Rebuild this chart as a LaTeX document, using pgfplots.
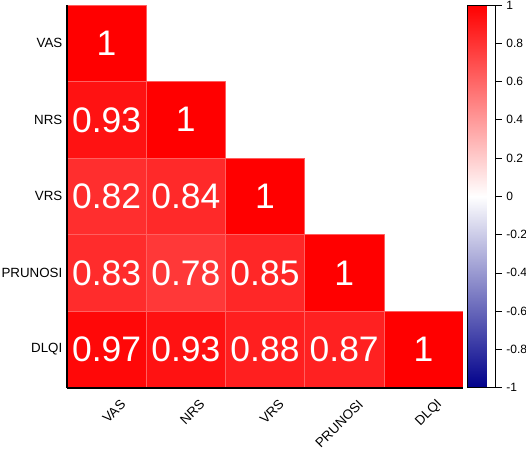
\documentclass[border=0pt]{standalone}
\usepackage{fontspec}
\setmainfont{Liberation Sans}
\usepackage{pgfplots}
\pgfplotsset{compat=1.18}

\pgfplotsset{colormap={corr}{rgb255=(0,0,139) rgb255=(255,255,255) rgb255=(255,0,0)}}

\begin{document}
\begin{tikzpicture}
\useasboundingbox (-50.25pt,-45.75pt) rectangle (344.25pt,290.75pt);
\begin{axis}[
    at={(0,0)}, anchor=south west,
    scale only axis, width=297pt, height=287pt,
    xmin=-0.5, xmax=4.5, ymin=-0.5, ymax=4.5,
    axis x line*=bottom, axis y line*=left,
    axis line style={line width=1.5pt},
    every outer x axis line/.append style={-},
    every outer y axis line/.append style={-},
    axis on top,
    xtick={0,...,4}, ytick={0,...,4},
    xticklabels={VAS,NRS,VRS,PRUNOSI,DLQI},
    yticklabels={DLQI,PRUNOSI,VRS,NRS,VAS},
    xtick style={draw=none}, ytick style={draw=none},
    xticklabel style={rotate=45, anchor=east, font=\fontsize{10}{11}\selectfont, xshift=4.5pt, yshift=-16.5pt},
    yticklabel style={font=\fontsize{10}{11}\selectfont, xshift=0pt},
    colormap name=corr,
    point meta min=-1, point meta max=1,
    colorbar,
    colorbar style={
        at={(parent axis.north east)}, anchor=north west, xshift=-5pt,
        width=21pt,
        ytick={-1,-0.8,-0.6,-0.4,-0.2,0,0.2,0.4,0.6,0.8,1},
        ytick pos=right, yticklabel pos=right,
        tick align=outside, major tick length=4.5pt,
        ytick style={draw=black, line width=0.5pt},
        yticklabel style={font=\fontsize{9}{10}\selectfont, /pgf/number format/assume math mode=true, /pgf/number format/fixed},
        axis line style={line width=0.6pt},
    },
]
% one rectangle per cell, four corners each, c = correlation
\addplot[patch, patch type=rectangle, shader=faceted,
    faceted color={rgb,255:red,255;green,95;blue,95}, line width=0.4pt,
    point meta=\thisrow{c}] table {
x y c
-0.5 3.5 1
0.5 3.5 1
0.5 4.5 1
-0.5 4.5 1
-0.5 2.5 0.93
0.5 2.5 0.93
0.5 3.5 0.93
-0.5 3.5 0.93
0.5 2.5 1
1.5 2.5 1
1.5 3.5 1
0.5 3.5 1
-0.5 1.5 0.82
0.5 1.5 0.82
0.5 2.5 0.82
-0.5 2.5 0.82
0.5 1.5 0.84
1.5 1.5 0.84
1.5 2.5 0.84
0.5 2.5 0.84
1.5 1.5 1
2.5 1.5 1
2.5 2.5 1
1.5 2.5 1
-0.5 0.5 0.83
0.5 0.5 0.83
0.5 1.5 0.83
-0.5 1.5 0.83
0.5 0.5 0.78
1.5 0.5 0.78
1.5 1.5 0.78
0.5 1.5 0.78
1.5 0.5 0.85
2.5 0.5 0.85
2.5 1.5 0.85
1.5 1.5 0.85
2.5 0.5 1
3.5 0.5 1
3.5 1.5 1
2.5 1.5 1
-0.5 -0.5 0.97
0.5 -0.5 0.97
0.5 0.5 0.97
-0.5 0.5 0.97
0.5 -0.5 0.93
1.5 -0.5 0.93
1.5 0.5 0.93
0.5 0.5 0.93
1.5 -0.5 0.88
2.5 -0.5 0.88
2.5 0.5 0.88
1.5 0.5 0.88
2.5 -0.5 0.87
3.5 -0.5 0.87
3.5 0.5 0.87
2.5 0.5 0.87
3.5 -0.5 1
4.5 -0.5 1
4.5 0.5 1
3.5 0.5 1
};
% cell labels
\addplot[only marks, mark=none, point meta=explicit symbolic,
    nodes near coords, nodes near coords align=center,
    every node near coord/.append style={anchor=center, xshift=0pt, yshift=0pt,
        text=white, font=\fontsize{26.6}{28}\selectfont}]
    table[meta=lab] {
x y lab
0 4 1
0 3 0.93
1 3 1
0 2 0.82
1 2 0.84
2 2 1
0 1 0.83
1 1 0.78
2 1 0.85
3 1 1
0 0 0.97
1 0 0.93
2 0 0.88
3 0 0.87
4 0 1
};
\end{axis}
\end{tikzpicture}
\end{document}
